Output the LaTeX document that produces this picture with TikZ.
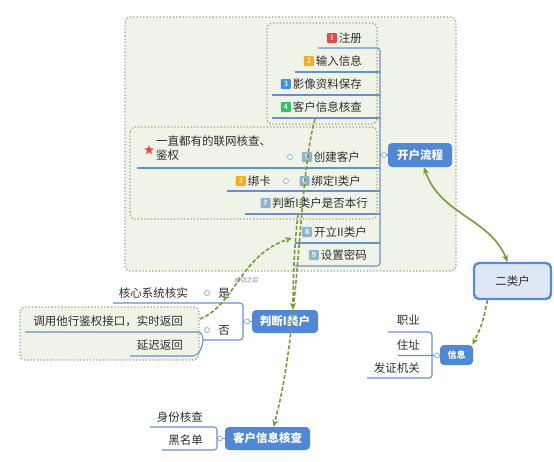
\documentclass[tikz,border=0pt]{standalone}
\usepackage{fontspec}
\newfontfamily\cjk{Noto Sans CJK SC}
\newfontfamily\cjki{Noto Sans CJK SC}[FakeSlant=0.2]
\usetikzlibrary{arrows.meta,shapes.geometric}
\definecolor{lineblue}{HTML}{6690CF}
\definecolor{topicblue}{HTML}{4F89D6}
\definecolor{boxfill}{HTML}{F0F3E7}
\definecolor{boxline}{HTML}{9EA782}
\definecolor{arrgreen}{HTML}{7B9A3C}
\definecolor{txtc}{HTML}{2E2E2E}
\definecolor{bred}{HTML}{E8474C}
\definecolor{borange}{HTML}{F5AB1D}
\definecolor{bblue}{HTML}{4B8BE0}
\definecolor{bgreen}{HTML}{2EC46A}
\definecolor{bgray}{HTML}{8DB4C8}
\definecolor{ekfill}{HTML}{DDE7F5}
\definecolor{ekline}{HTML}{5A8AD2}
\definecolor{dotline}{HTML}{9AAED0}
\begin{document}
\begin{tikzpicture}[x=1pt,y=-1pt,
  itm/.style={inner sep=0pt, text=txtc, font=\cjk\fontsize{11.5}{14}\selectfont},
  badge/.style={fill=#1, text=white, font=\sffamily\bfseries\fontsize{7.5}{7.5}\selectfont, minimum size=10pt, inner sep=0pt, rounded corners=1pt},
  uline/.style={draw=lineblue, line width=1.1pt},
  grpbox/.style={draw=boxline, fill=boxfill, dotted, line width=1.3pt, rounded corners=5pt},
  topic/.style={fill=topicblue, text=white, rounded corners=4pt, inner sep=0pt, font=\cjk\bfseries\fontsize{11.5}{13}\selectfont},
  dotc/.style={circle, draw=dotline, fill=white, line width=0.8pt, inner sep=0pt, minimum size=5pt},
  garrow/.style={draw=arrgreen, line width=1.6pt, -{Stealth[length=7pt,width=6pt]}},
  gdash/.style={garrow, dash pattern=on 4pt off 2pt}
]
\useasboundingbox (0,0) rectangle (554,461);
\fill[white] (0,0) rectangle (554,461);

% group boxes
\draw[grpbox] (125,17) rectangle (456,271);
\draw[grpbox] (267,23) rectangle (377,124);
\draw[grpbox] (130,127) rectangle (377,219);
\draw[grpbox] (20,307) rectangle (199,360);

% spine of the main topic
\draw[uline, rounded corners=3pt] (318,48) -- (380,48) -- (380,266) -- (295,266);
\draw[uline] (295,72) -- (380,72);
\draw[uline] (272,95) -- (380,95);
\draw[uline] (272,118) -- (380,118);
\draw[uline] (137,168) -- (380,168);
\draw[uline] (227,191) -- (380,191);
\draw[uline] (245,214) -- (380,214);
\draw[uline] (295,243) -- (380,243);

% main topic
\node[topic, minimum width=64pt, minimum height=24pt] (kh) at (420,155) {开户流程};
\node[dotc] (ckh) at (384,155) {};
\draw[uline] (380,155) -- (ckh) -- (kh.west);

% items
\node[itm, anchor=east] (t1) at (362,38) {注册};
\node[badge=bred, anchor=east] (b1) at ([xshift=-1.5pt]t1.west) {1};
\node[itm, anchor=east] (t2) at (362,61) {输入信息};
\node[badge=borange, anchor=east] (b2) at ([xshift=-1.5pt]t2.west) {2};
\node[itm, anchor=east] (t3) at (362,84) {影像资料保存};
\node[badge=bblue, anchor=east] (b3) at ([xshift=-1.5pt]t3.west) {3};
\node[itm, anchor=east] (t4) at (362,107) {客户信息核查};
\node[badge=bgreen, anchor=east] (b4) at ([xshift=-1.5pt]t4.west) {4};
\node[itm, anchor=east] (t5) at (360,157) {创建客户};
\node[badge=bgray, anchor=east] (b5) at ([xshift=-1.5pt]t5.west) {5};
\node[itm, anchor=east] (t6) at (361,181) {绑定I类户};
\node[badge=bgray, anchor=east] (b6) at ([xshift=-1.5pt]t6.west) {6};
\node[itm, anchor=east] (t7) at (368,203) {判断I类户是否本行};
\node[badge=bgray, anchor=east] (b7) at ([xshift=-1.5pt]t7.west) {7};
\node[itm, anchor=east] (t8) at (367,232) {开立II类户};
\node[badge=bgray, anchor=east] (b8) at ([xshift=-1.5pt]t8.west) {8};
\node[itm, anchor=east] (t9) at (367,255) {设置密码};
\node[badge=bgray, anchor=east] (b9) at ([xshift=-1.5pt]t9.west) {9};

% sub items of 5 and 6
\node[dotc] (c5) at (290,157) {};
\node[itm, anchor=north west, align=left] (lw) at (156,136) {一直都有的联网核查、\\鉴权};
\node[star, star points=5, star point ratio=2.3, fill=bred, inner sep=0pt, minimum size=10pt] (st) at (149,150) {};
\node[dotc] (c6) at (286,181) {};
\node[itm, anchor=east] (bk) at (271,181) {绑卡};
\node[badge=borange, anchor=east] (bb) at ([xshift=-1.5pt]bk.west) {2};

% 二类户
\node[draw=ekline, fill=ekfill, line width=2.4pt, rounded corners=5pt, minimum width=77pt, minimum height=36pt, inner sep=0pt, text=txtc, font=\cjk\fontsize{11.5}{13}\selectfont] (ek) at (512.5,281) {二类户};

% 信息
\node[topic, minimum width=33pt, minimum height=20pt, font=\cjk\bfseries\fontsize{9}{11}\selectfont] (xx) at (456.5,355) {信息};
\node[dotc] (cxx) at (437,355.5) {};
\draw[uline, rounded corners=3pt] (388,332) -- (432,332) -- (432,378) -- (367,378);
\draw[uline] (398,355.5) -- (cxx) -- (xx.west);
\node[itm, anchor=east] (zy) at (420,320) {职业};
\node[itm, anchor=east] (zz) at (420,345) {住址};
\node[itm, anchor=east] (fz) at (420,368) {发证机关};

% 判断I类户
\node[topic, minimum width=66pt, minimum height=23pt] (pd) at (285,321.5) {判断I类户};
\node[dotc] (cpd) at (247,321.5) {};
\draw[uline, rounded corners=3pt] (113,303) -- (243,303) -- (243,340) -- (203,340);
\draw[uline] (243,321.5) -- (cpd) -- (pd.west);
\node[itm, anchor=center] (shi) at (224,293) {是};
\node[dotc] (cshi) at (207,293) {};
\node[itm, anchor=east] (hx) at (188,293) {核心系统核实};
\node[itm, anchor=center] (fou) at (224,330) {否};
\node[dotc] (cfou) at (207,330) {};
\draw[uline] (25,332) -- (198,332) .. controls (201,332) and (203,336) .. (203,340);
\draw[uline] (130,356) -- (193,356) .. controls (199,356) and (203,346) .. (203,340);
\node[itm, anchor=east] (dy) at (183,321) {调用他行鉴权接口，实时返回};
\node[itm, anchor=east] (yc) at (183,345) {延迟返回};

% 客户信息核查 (bottom)
\node[topic, minimum width=85pt, minimum height=23pt] (kc) at (267.5,438.5) {客户信息核查};
\node[dotc] (ckc) at (220,438.5) {};
\draw[uline, rounded corners=3pt] (150,427) -- (217,427) -- (217,450) -- (162,450);
\draw[uline] (217,438.5) -- (ckc) -- (kc.west);
\node[itm, anchor=east] (sf) at (203,417) {身份核查};
\node[itm, anchor=east] (hm) at (203,440) {黑名单};

% green arrows
\draw[garrow, {Stealth[length=7pt,width=6pt]}-{Stealth[length=7pt,width=6pt]}] ([xshift=4pt]kh.south) .. controls (440,215) and (490,218) .. ([xshift=-5pt]ek.north);
\draw[gdash] ([xshift=-25pt]ek.south) .. controls (482,325) .. ([xshift=16pt]xx.north);
\draw[gdash] (315,119) .. controls (298,180) and (300,330) .. ([xshift=6pt]kc.north);
\draw[gdash] (298,214) .. controls (294,250) and (293,280) .. ([xshift=8pt]pd.north);
\draw[gdash] (200,319) .. controls (235,305) and (240,255) .. (292,238);
\node[inner sep=0pt, text=gray, font=\cjki\fontsize{6}{6}\selectfont] (cg) at (246,280) {成功之后};
\end{tikzpicture}
\end{document}
